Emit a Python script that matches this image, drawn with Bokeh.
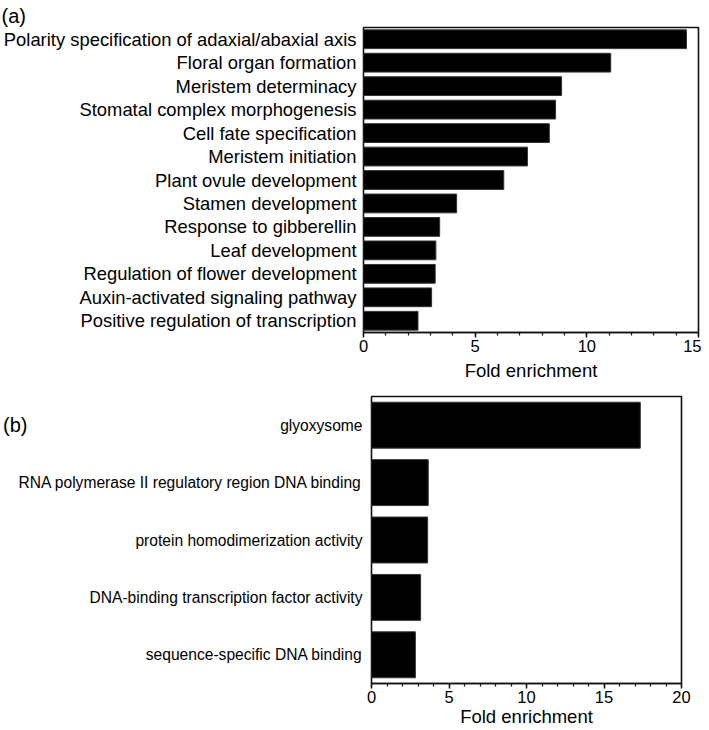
from bokeh.plotting import figure
from bokeh.models import (FactorRange, Range1d, SingleIntervalTicker, CategoricalAxis)
from bokeh.layouts import column, row
from bokeh.embed import file_html
from bokeh.resources import INLINE

FONT = "Liberation Sans"

cats_a = [
    "Polarity specification of adaxial/abaxial axis",
    "Floral organ formation",
    "Meristem determinacy",
    "Stomatal complex morphogenesis",
    "Cell fate specification",
    "Meristem initiation",
    "Plant ovule development",
    "Stamen development",
    "Response to gibberellin",
    "Leaf development",
    "Regulation of flower development",
    "Auxin-activated signaling pathway",
    "Positive regulation of transcription",
]
vals_a = [14.46, 11.07, 8.87, 8.60, 8.32, 7.34, 6.28, 4.17, 3.41, 3.24, 3.21, 3.05, 2.44]

cats_b = [
    "glyoxysome",
    "RNA polymerase II regulatory region DNA binding",
    "protein homodimerization activity",
    "DNA-binding transcription factor activity",
    "sequence-specific DNA binding",
]
vals_b = [17.34, 3.66, 3.62, 3.17, 2.83]

x_label = "Fold enrichment"
panel_labels = ["(a)", "(b)"]


def style(p, cat_font, cat_standoff):
    p.grid.visible = False
    p.outline_line_color = "#111111"
    p.outline_line_width = 1.6
    xa = p.xaxis[0]
    xa.ticker = SingleIntervalTicker(interval=5, num_minor_ticks=5)
    xa.major_tick_out = 5
    xa.major_tick_in = 0
    xa.minor_tick_out = 3
    xa.minor_tick_in = 0
    xa.major_tick_line_width = 1.5
    xa.minor_tick_line_width = 1.2
    xa.axis_line_width = 1.6
    xa.axis_line_color = "#111111"
    xa.major_tick_line_color = "#111111"
    xa.minor_tick_line_color = "#111111"
    xa.major_label_text_font = FONT
    xa.major_label_text_font_size = "16.5px"
    xa.major_label_text_color = "black"
    xa.major_label_standoff = 2
    xa.axis_label = x_label
    xa.axis_label_text_font = FONT
    xa.axis_label_text_font_size = "18.5px"
    xa.axis_label_text_font_style = "normal"
    xa.axis_label_text_color = "black"
    ya = p.yaxis[0]
    ya.major_tick_out = 0
    ya.major_tick_in = 0
    ya.minor_tick_out = 0
    ya.axis_line_color = None
    ya.major_label_text_font = FONT
    ya.major_label_text_font_size = cat_font
    ya.major_label_text_color = "black"
    ya.major_label_standoff = cat_standoff


# ---------- panel (a)
pa = figure(
    width=701, height=386,
    y_range=FactorRange(factors=list(reversed(cats_a))),
    x_range=Range1d(0, 15),
    output_backend="svg", toolbar_location=None,
    min_border_left=362, min_border_right=3, min_border_top=27, min_border_bottom=54,
)
pa.hbar(y=cats_a, right=vals_a, height=0.8, fill_color="black", line_color="#333333", line_width=1)
style(pa, "18.4px", 7)
pa.xaxis[0].axis_label_standoff = 5
pa.title.text = panel_labels[0]
pa.title.align = "left"
pa.title.offset = -362
pa.title.standoff = 1
pa.title.text_font = FONT
pa.title.text_font_size = "20px"
pa.title.text_font_style = "normal"
pa.title.text_color = "black"

# ---------- panel (b)
pb = figure(
    width=701, height=344,
    y_range=FactorRange(factors=list(reversed(cats_b))),
    x_range=Range1d(0, 20),
    output_backend="svg", toolbar_location=None,
    min_border_left=367, min_border_right=20, min_border_top=10, min_border_bottom=47,
)
pb.title = None
pb.hbar(y=cats_b, right=vals_b, height=0.8, fill_color="black", line_color="#333333", line_width=1)
style(pb, "15.6px", 9)
pb.xaxis[0].axis_label_standoff = 0

# panel tag "(b)": a second, outer categorical axis whose only visible label is the tag
tag_factors = [" " * (i + 1) for i in range(len(cats_b) - 1)] + [panel_labels[1]]
pb.extra_y_ranges = {"tag": FactorRange(factors=tag_factors)}
tag_axis = CategoricalAxis(
    y_range_name="tag",
    axis_line_color=None,
    major_tick_out=0, major_tick_in=0, minor_tick_out=0, minor_tick_in=0,
    major_label_text_font=FONT,
    major_label_text_font_size="20px",
    major_label_text_color="black",
    major_label_standoff=-12,
)
pb.add_layout(tag_axis, "left")

layout = column(row(pa), row(pb), spacing=0)
open("out.html", "w").write(file_html(layout, INLINE))
